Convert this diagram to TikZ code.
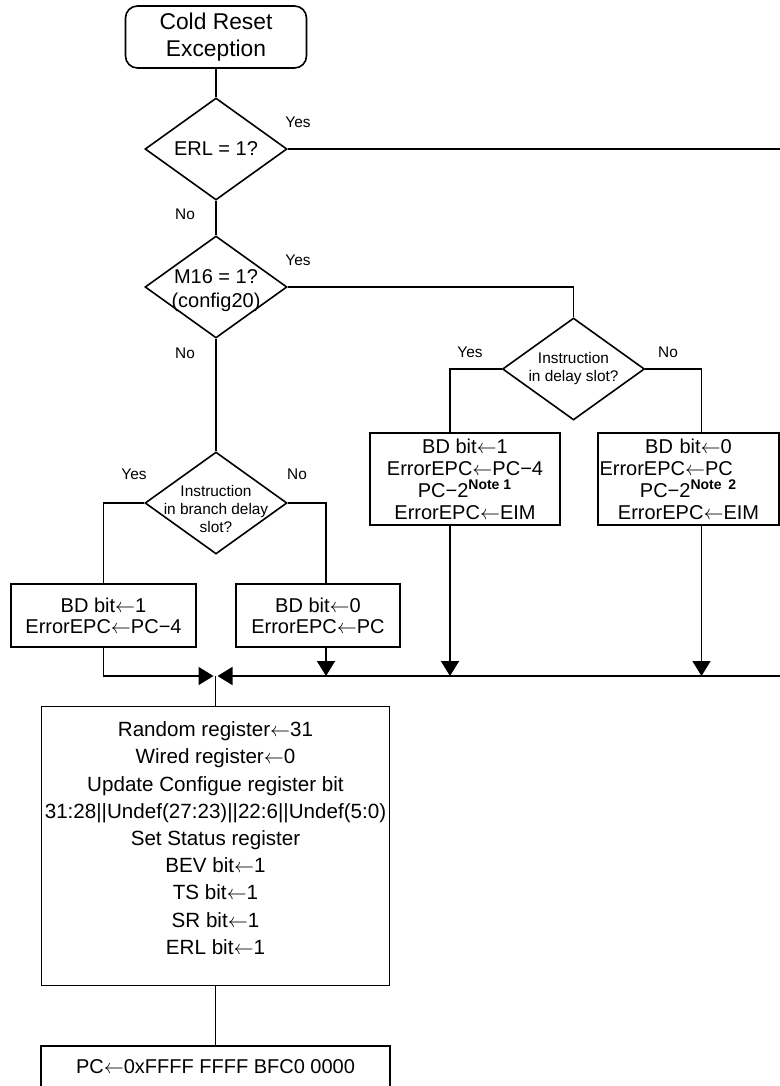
\documentclass[tikz,border=0pt]{standalone}
\usepackage{fontspec}
\setmainfont{Liberation Sans}
\usetikzlibrary{shapes.geometric,arrows.meta}
\newcommand{\getsarrow}{\ensuremath{\leftarrow}}

\begin{document}
\begin{tikzpicture}[x=0.5pt,y=-0.5pt,line width=0.8pt,
    txt/.style={font=\fontsize{10pt}{#1}\selectfont},
    txt/.default=12pt,
    box/.style={draw,rectangle,inner sep=0pt,align=center},
    test/.style={draw,diamond,inner sep=0pt,minimum width=71pt,minimum height=51pt},
    yn/.style={font=\fontsize{7.7pt}{9pt}\selectfont,inner sep=0pt},
    flow/.style={-{Triangle[width=9pt,length=7.5pt]}}]
  \useasboundingbox (0,0) rectangle (780,1086);
  \clip (0,0) rectangle (780,1086);

  \node[box,rounded corners=6pt,minimum width=90.5pt,minimum height=31pt,font=\fontsize{11.4pt}{13.5pt}\selectfont] (start) at (216,37) {Cold Reset\\Exception};
  \node[test,label={[txt,align=center]center:ERL = 1?}] (erl) at (216,149) {};
  \node[test,label={[txt=12pt,align=center,yshift=-2pt]center:M16 = 1?\\(config20)}] (m16) at (216,287) {};
  \node[test,label={[yn,align=center]center:Instruction\\in delay slot?}] (dslot) at (573.5,369) {};
  \node[test,label={[yn,align=center,yshift=-3pt]center:Instruction\\in branch delay\\slot?}] (bslot) at (216,503) {};

  \node[box,minimum width=92.5pt,minimum height=31.5pt,txt=10.5pt] (bd1) at (103.5,615.5) {BD bit\getsarrow1\\ErrorEPC\getsarrow PC−4};
  \node[box,minimum width=82pt,minimum height=31.5pt,txt=10.5pt] (bd0) at (318,615.5) {BD bit\getsarrow0\\ErrorEPC\getsarrow PC};
  \node[box,minimum width=95pt,minimum height=46pt,txt=11pt] (bdn1) at (465,479) {BD bit\getsarrow1\\ErrorEPC\getsarrow PC−4\\PC−2\textsuperscript{\textbf{Note 1}}\\ErrorEPC\getsarrow EIM};
  \node[box,minimum width=90.5pt,minimum height=46pt,text width=89pt,txt=11pt] (bdn0) at (688.5,479) {BD bit\getsarrow0\\ErrorEPC\getsarrow PC\hfill\null\\PC−2\textsuperscript{\textbf{Note 2}}\\ErrorEPC\getsarrow EIM};

  \node[box,minimum width=174pt,minimum height=139.5pt,font=\fontsize{10.3pt}{13.6pt}\selectfont] (reset) at (215.5,846) {Random register\getsarrow31\\Wired register\getsarrow0\\Update Configue register bit\\31:28||Undef(27:23)||22:6||Undef(5:0)\\Set Status register\\BEV bit\getsarrow1\\TS bit\getsarrow1\\SR bit\getsarrow1\\ERL bit\getsarrow1\rule[-8pt]{0pt}{8pt}};
  \node[box,anchor=north,minimum width=174.5pt,inner ysep=7pt,txt] (pcset) at (215.5,1045) {PC\getsarrow 0xFFFF FFFF BFC0 0000};

  % yes / no
  \node[yn] (erlyes) at (298,122) {Yes};
  \node[yn] (erlno) at (185,214) {No};
  \node[yn] (m16yes) at (298,260) {Yes};
  \node[yn] (m16no) at (185,353) {No};
  \node[yn] (dyes) at (470,352) {Yes};
  \node[yn] (dno) at (668,352) {No};
  \node[yn] (byes) at (134,474) {Yes};
  \node[yn] (bno) at (297,474) {No};

  \coordinate (erlout) at (790,149);
  \coordinate (join) at (215.5,676);
  \coordinate (busend) at (790,676);

  \draw (start) -- (erl);
  \draw (erl.east) -- (erlout);
  \draw (erl) -- (m16);
  \draw (m16.east) -| (dslot.north);
  \draw (dslot.west) -| ([xshift=-7.5pt]bdn1.north);
  \draw (dslot.east) -| ([xshift=6.5pt]bdn0.north);
  \draw (m16) -- (bslot);
  \draw (bslot.west) -| (bd1.north);
  \draw (bslot.east) -| ([xshift=4pt]bd0.north);

  % merge
  \draw[flow] (bd1.south) |- ([xshift=-1pt]join);
  \draw[flow] (busend) -- ([xshift=1pt]join);
  \draw[flow] ([xshift=4pt]bd0.south) -- ([xshift=4pt]bd0.south |- join);
  \draw[flow] ([xshift=-7.5pt]bdn1.south) -- ([xshift=-7.5pt]bdn1.south |- join);
  \draw[flow] ([xshift=6.5pt]bdn0.south) -- ([xshift=6.5pt]bdn0.south |- join);
  \draw (join) -- (reset);
  \draw (reset) -- (pcset);
\end{tikzpicture}
\end{document}
